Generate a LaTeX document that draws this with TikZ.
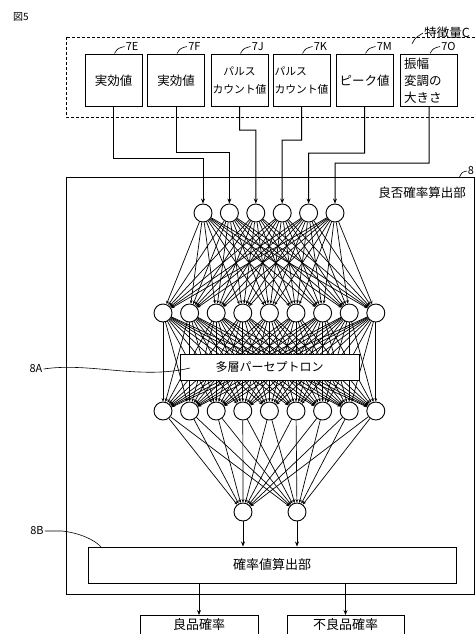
\documentclass[tikz,border=0pt]{standalone}
\usepackage{fontspec}
\setmainfont{Noto Sans CJK JP}
\usetikzlibrary{arrows.meta,calc}
\tikzset{
  feat/.style={draw, line width=1pt, minimum width=57pt, minimum height=51pt, inner sep=1pt, align=center, font=\fontsize{12.5}{17}\selectfont},
  neuron/.style={circle, draw, line width=0.9pt, minimum size=18pt, inner sep=0pt, fill=white},
  wire/.style={line width=0.7pt, -{Stealth[length=3.4pt,width=2.8pt]}},
  feed/.style={line width=1pt, -{Stealth[length=5pt,width=4pt]}},
  lead/.style={line width=0.6pt},
  tag/.style={inner sep=1pt, font=\fontsize{11}{12}\selectfont},
  blk/.style={draw, line width=1pt, fill=white}
}
\begin{document}
\begin{tikzpicture}[x=1pt,y=-1pt]
\clip (0,0) rectangle (475,634);
\fill[white] (0,0) rectangle (475,634);

\node[tag, font=\fontsize{10}{11}\selectfont] (fig) at (21,17) {図5};

% feature group
\draw[line width=0.9pt, dash pattern=on 3pt off 2pt] (66,37) rectangle (478,117);
\coordinate (gl) at (412,44);
\draw[lead] (gl) .. controls (415,38) .. (423,33) node[right, inner sep=1pt, font=\fontsize{12.5}{14}\selectfont] (gtag) {特徴量C};

\node[feat] (f1) at (113.5,80.5) {実効値};
\node[feat] (f2) at (176,80.5) {実効値};
\node[feat, font=\fontsize{10.8}{18}\selectfont] (f3) at (239.5,80.5) {パルス\\カウント値};
\node[feat, font=\fontsize{10.8}{18}\selectfont, align=left] (f4) at (301.5,80.5) {パルス\\カウント値};
\node[feat] (f5) at (364.5,80.5) {ピーク値};
\node[feat, align=left, text width=50pt] (f6) at (429,80.5) {振幅\\変調の\\大きさ};

\foreach \n/\t in {f1/7E,f2/7F,f3/7J,f4/7K,f5/7M,f6/7O}{
  \draw[lead] ($(\n.north)+(1,-1)$) .. controls ($(\n.north)+(4,-6)$) .. ($(\n.north)+(11,-8)$) node[tag, right] (l\n) {\t};
}

% main block 8
\draw[line width=1pt] (66,177) rectangle (474,594);
\coordinate (el) at (459,178);
\draw[lead] (el) .. controls (462,172) .. (467,171) node[right, inner sep=0.5pt, font=\fontsize{11}{12}\selectfont] (etag) {8};
\node[font=\fontsize{12.5}{14}\selectfont] (title) at (422,193) {良否確率算出部};

% neurons
\foreach \k in {1,...,6}{
  \node[neuron] (i\k) at ({203+26.4*(\k-1)},213) {};
}
\foreach \k in {1,...,9}{
  \node[neuron] (h\k) at ({163+26.6*(\k-1)},313) {};
  \node[neuron] (g\k) at ({163+26.6*(\k-1)},411) {};
}
\node[neuron] (o1) at (243,512) {};
\node[neuron] (o2) at (297,512) {};

% network edges
\foreach \a in {1,...,6}{
  \foreach \b in {1,...,9}{
    \draw[wire] (i\a) -- (h\b);
  }
}
\foreach \a in {1,...,9}{
  \foreach \b in {1,...,9}{
    \draw[wire] (h\a) -- (g\b);
  }
  \draw[wire] (g\a) -- (o1);
  \draw[wire] (g\a) -- (o2);
}

% MLP label box
\node[blk, minimum width=179pt, minimum height=26pt, font=\fontsize{12}{14}\selectfont] (mlp) at (269.5,367) {多層パーセプトロン};
\node[inner sep=1pt, font=\fontsize{11}{12}\selectfont] (la) at (36,369) {8A};
\draw[lead] (la.east) .. controls (90,362) and (140,380) .. (190,368);

% feature connectors
\coordinate (b1) at (203,158);
\coordinate (b2) at (229.4,152);
\coordinate (b3) at (255.8,130);
\coordinate (b4) at (282.2,140);
\coordinate (b5) at (308.6,153);
\coordinate (b6) at (335,163);
\foreach \k in {1,...,6}{
  \draw[feed] (f\k.south) |- (b\k) -- (i\k.north);
}

% probability block
\node[blk, minimum width=368pt, minimum height=36pt, font=\fontsize{13}{15}\selectfont] (pb) at (272,565) {確率値算出部};
\node[inner sep=1pt, font=\fontsize{11}{12}\selectfont] (lb) at (37,531) {8B};
\draw[lead] (lb.east) -- (62,531) .. controls (80,533) and (95,540) .. (101,547);
\draw[feed] (o1.south) -- (o1.south |- pb.north);
\draw[feed] (o2.south) -- (o2.south |- pb.north);

% results
\node[blk, minimum width=118pt, minimum height=40pt, anchor=north, font=\fontsize{13}{15}\selectfont, text depth=24pt] (r1) at (199,615) {良品確率};
\node[blk, minimum width=117pt, minimum height=40pt, anchor=north, font=\fontsize{13}{15}\selectfont, text depth=24pt] (r2) at (345.5,615) {不良品確率};
\draw[feed] (pb.south -| r1.north) -- (r1.north);
\draw[feed] (pb.south -| r2.north) -- (r2.north);
\end{tikzpicture}
\end{document}
